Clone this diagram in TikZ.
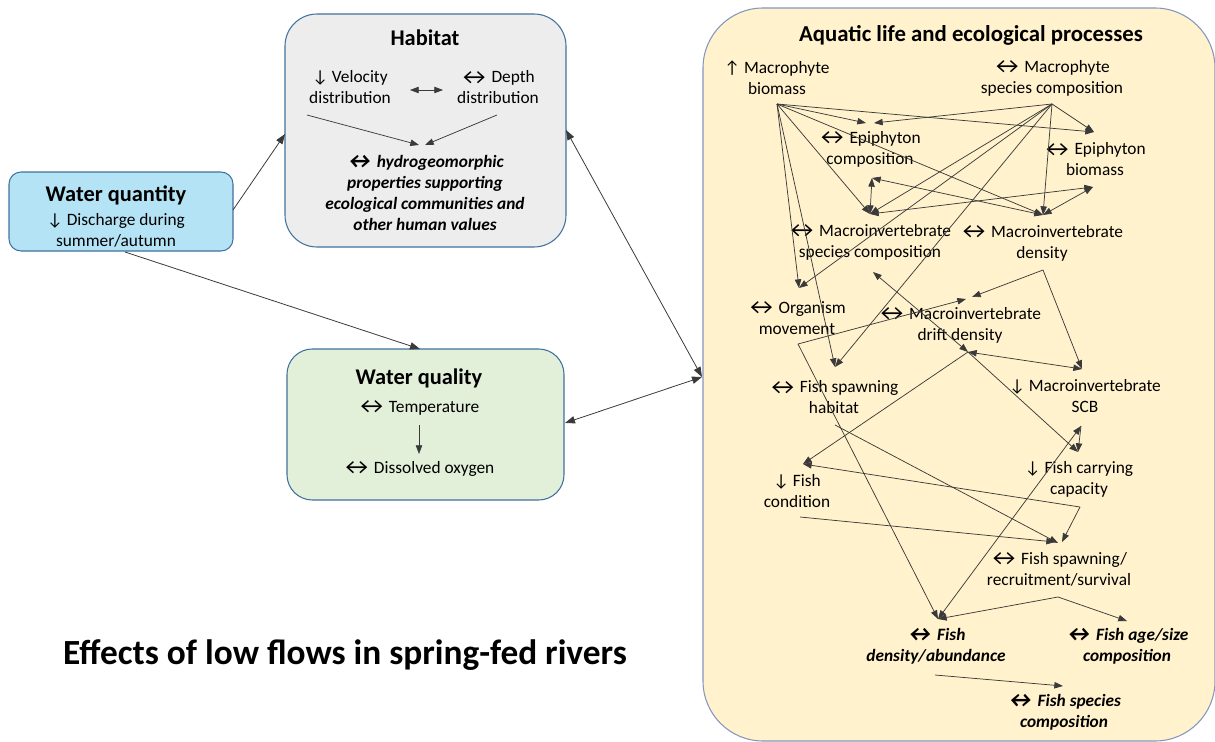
\documentclass[tikz,border=0pt]{standalone}
\usepackage{fontspec}
\usepackage{graphicx}
\setmainfont{Carlito}
\usetikzlibrary{arrows.meta}

\definecolor{edgeblue}{HTML}{41719C}
\definecolor{panelblue}{HTML}{8497C0}
\definecolor{qtyfill}{HTML}{B5E3F6}
\definecolor{habfill}{HTML}{EDEDED}
\definecolor{qualfill}{HTML}{E2EFD9}
\definecolor{aqfill}{HTML}{FFF2CC}
\definecolor{linkgray}{HTML}{3A3A3A}

% wide "no change" arrow, centred in a box slightly wider than the plain glyph
\newcommand{\lrarr}{\sbox0{↔}\makebox[\dimexpr\wd0+3pt\relax]{\raisebox{-0.15ex}{\scalebox{1.45}[1.3]{↔}}}}

\begin{document}
\begin{tikzpicture}[x=0.75pt,y=-0.75pt,
  box/.style={draw=edgeblue,line width=0.8pt,inner sep=0pt},
  txt/.style={align=center,inner sep=0pt,font=\fontsize{13}{15.75}\selectfont},
  bitxt/.style={txt,font=\fontsize{13}{15.75}\selectfont\bfseries\itshape},
  head/.style={inner sep=0pt,font=\fontsize{16.8}{20}\selectfont\bfseries},
  link/.style={draw=linkgray,line width=0.55pt,-{Triangle[length=6.5pt,width=4.8pt]}},
  twoway/.style={draw=linkgray,line width=0.55pt,{Triangle[length=6.5pt,width=4.8pt]}-{Triangle[length=6.5pt,width=4.8pt]}},
  biglink/.style={draw=linkgray,line width=0.6pt,-{Triangle[length=7.5pt,width=5.5pt]}},
  bigtwoway/.style={draw=linkgray,line width=0.6pt,{Triangle[length=7.5pt,width=5.5pt]}-{Triangle[length=7.5pt,width=5.5pt]}}]
\useasboundingbox (0,0) rectangle (1215,742);

% ---------- containers ----------
\node[box,fill=qtyfill,rounded corners=9pt,minimum width=168pt,minimum height=59.25pt] (qty) at (121,211.5) {};
\node[box,fill=habfill,rounded corners=24pt,minimum width=210.75pt,minimum height=174.75pt] (hab) at (425.5,130.5) {};
\node[box,fill=qualfill,rounded corners=19pt,minimum width=207.75pt,minimum height=113.25pt] (qual) at (425.5,424.5) {};
\node[draw=panelblue,line width=0.8pt,fill=aqfill,rounded corners=45pt,inner sep=0pt,minimum width=384pt,minimum height=549.75pt] (aq) at (959,374.5) {};

% ---------- water quantity ----------
\node[head] (qtyT) at (116,195) {Water quantity};
\node[txt] (dis) at (116,230.5) {↓ Discharge during\\summer/autumn};

% ---------- habitat ----------
\node[head] (habT) at (425,38) {Habitat};
\node[txt] (vel) at (350,87.5) {↓ Velocity\\distribution};
\node[txt] (dep) at (498,87.5) {\lrarr\ Depth\\distribution};
\node[bitxt] (hg) at (425,192.5) {\lrarr\ hydrogeomorphic\\properties supporting\\ecological communities and\\other human values};

% ---------- water quality ----------
\node[head] (qualT) at (419,378) {Water quality};
\node[txt] (temp) at (419,408) {\lrarr\ Temperature};
\node[txt] (dox) at (419,469) {\lrarr\ Dissolved oxygen};

% ---------- aquatic life ----------
\node[head,font=\fontsize{17.1}{20}\selectfont\bfseries] (aqT) at (971,35) {Aquatic life and ecological processes};
\node[txt] (mb) at (777,77.5) {↑ Macrophyte\\biomass};
\node[txt] (msc) at (1052,78) {\lrarr\ Macrophyte\\species composition};
\node[txt] (ec) at (870,149) {\lrarr\ Epiphyton\\composition};
\node[txt] (eb) at (1095,159.5) {\lrarr\ Epiphyton\\biomass};
\node[txt] (mic) at (870,242) {\lrarr\ Macroinvertebrate\\species composition};
\node[txt] (mid) at (1042,243.5) {\lrarr\ Macroinvertebrate\\density};
\node[txt] (om) at (797,318) {\lrarr\ Organism\\movement};
\node[txt] (mdd) at (960,325.5) {\lrarr\ Macroinvertebrate\\drift density};
\node[txt] (fsh) at (834,397.5) {\lrarr\ Fish spawning\\habitat};
\node[txt] (scb) at (1085,396.5) {↓ Macroinvertebrate\\SCB};
\node[txt] (fcc) at (1079,479.5) {↓ Fish carrying\\capacity};
\node[txt] (fc) at (797,491.5) {↓ Fish\\condition};
\node[txt] (fsr) at (1059,569.5) {\lrarr\ Fish spawning/\\recruitment/survival};
\node[bitxt] (fda) at (936,646.5) {\lrarr\ Fish\\density/abundance};
\node[bitxt] (fas) at (1127,646.5) {\lrarr\ Fish age/size\\composition};
\node[bitxt] (fsc) at (1064,712.5) {\lrarr\ Fish species\\composition};

% ---------- title ----------
\node[inner sep=0pt,font=\fontsize{26.5}{30}\selectfont\bfseries] (ttl) at (345,655) {Effects of low flows in spring-fed rivers};

% ---------- connection points ----------
\coordinate (qtyE) at (233,210);   \coordinate (habW) at (285,134);
\coordinate (qtyS) at (125,252);   \coordinate (qualN) at (420,349);
\coordinate (habE) at (566,130);   \coordinate (aqW) at (702,377);
\coordinate (qualE) at (565,423);
\coordinate (velE) at (410,90);    \coordinate (depW) at (443,90);
\coordinate (velS) at (307,115);   \coordinate (hgN1) at (419,145);
\coordinate (depS) at (497,115);   \coordinate (hgN2) at (425,145);
\coordinate (tempS) at (419,425);  \coordinate (doxN) at (419,454);

\coordinate (mbS) at (777,104);    \coordinate (mscS) at (1052,104);
\coordinate (ecN1) at (866,123);   \coordinate (ecN2) at (874,123);
\coordinate (ebN) at (1094,132);
\coordinate (ecS) at (872,178);    \coordinate (ebS) at (1093,187);
\coordinate (micN) at (870,214);   \coordinate (midN) at (1043,215);
\coordinate (omN) at (799,288);
\coordinate (micS) at (873,272);   \coordinate (midS) at (1043,270);
\coordinate (omS) at (798,344);
\coordinate (mddN1) at (966,299);  \coordinate (mddN2) at (972,297);
\coordinate (mddS) at (968,352);
\coordinate (fshN) at (835,367);   \coordinate (scbN) at (1082,369);
\coordinate (fshS) at (835,425);   \coordinate (scbS) at (1081,426);
\coordinate (fccN) at (1078,452);  \coordinate (fcN) at (803,464);
\coordinate (fccS) at (1080,507);  \coordinate (fcS) at (800,517);
\coordinate (fsrN1) at (1055,542); \coordinate (fsrN2) at (1058,543);
\coordinate (fsrN3) at (1062,542); \coordinate (fsrS) at (1058,597);
\coordinate (fdaN) at (938,619);   \coordinate (fasN) at (1127,621);
\coordinate (fdaS) at (935,675);   \coordinate (fscN) at (1063,686);

% ---------- links between the groups ----------
\draw[biglink] (qtyE) -- (habW);
\draw[biglink] (qtyS) -- (qualN);
\draw[bigtwoway] (habE) -- (aqW);
\draw[bigtwoway] (qualE) -- (aqW);

% ---------- links inside habitat and water quality ----------
\draw[twoway] (velE) -- (depW);
\draw[link] (velS) -- (hgN1);
\draw[link] (depS) -- (hgN2);
\draw[link] (tempS) -- (doxN);

% ---------- links inside aquatic life ----------
\draw[link] (mbS) -- (ecN1);
\draw[link] (mscS) -- (ecN2);
\draw[link] (mbS) -- (ebN);
\draw[link] (mscS) -- (ebN);
\draw[link] (mbS) -- (micN);
\draw[link] (mbS) -- (midN);
\draw[link] (mbS) -- (omN);
\draw[link] (mbS) -- (fshN);
\draw[link] (mscS) -- (micN);
\draw[link] (mscS) -- (midN);
\draw[link] (mscS) -- (omN);
\draw[link] (mscS) -- (fshN);
\draw[twoway] (ecS) -- (micN);
\draw[twoway] (ecS) -- (midN);
\draw[twoway] (micN) -- (ebS);
\draw[twoway] (ebS) -- (midN);
\draw[link] (midS) -- (mddN2);
\draw[link] (midS) -- (scbN);
\draw[link] (omS) -- (mddN1);
\draw[link] (omS) -- (fdaN);
\draw[twoway] (mddS) -- (micS);
\draw[link] (mddS) -- (fccN);
\draw[twoway] (mddS) -- (scbN);
\draw[link] (mddS) -- (fcN);
\draw[link] (scbS) -- (fccN);
\draw[twoway] (fdaN) -- (scbS);
\draw[link] (fccS) -- (fcN);
\draw[link] (fccS) -- (fsrN3);
\draw[link] (fcS) -- (fsrN1);
\draw[link] (fshS) -- (fsrN2);
\draw[link] (fsrS) -- (fdaN);
\draw[link] (fsrS) -- (fasN);
\draw[link] (fdaS) -- (fscN);
\end{tikzpicture}
\end{document}
